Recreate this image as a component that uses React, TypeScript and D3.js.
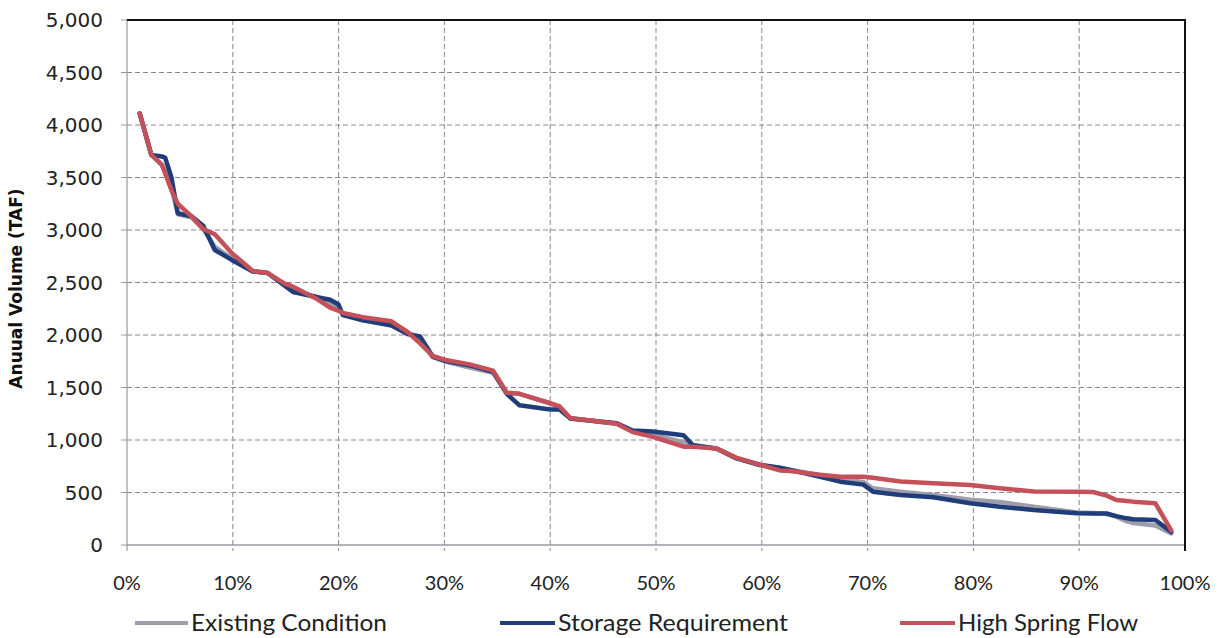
import React from "react";
import * as d3 from "d3";

// exceedance (%) shared by all three series
const pctPoints = [
  1.2, 2.3, 3.3, 3.6, 4.2, 4.8, 6.1, 7.2, 8.3, 9.9, 11.9, 13.3, 14.9, 15.7, 18.0, 19.2, 20.0, 20.4,
  22.3, 25.0, 26.5, 27.7, 28.9, 30.0, 32.4, 34.6, 35.9, 37.1, 40.0, 40.9, 41.9, 46.3, 47.8, 49.7,
  52.6, 53.5, 55.7, 57.6, 59.8, 61.7, 62.7, 65.5, 67.4, 69.6, 70.5, 73.1, 76.2, 79.7, 82.5, 85.7,
  89.8, 91.3, 92.6, 93.5, 94.5, 95.1, 97.2, 98.7,
];

const existingCondition = [
  4110, 3715, 3620, 3560, 3400, 3150, 3120, 3010, 2840, 2730, 2605, 2590, 2480, 2430, 2360, 2300, 2240, 2200,
  2140, 2110, 2030, 1950, 1790, 1750, 1690, 1640, 1445, 1440, 1350, 1310, 1205, 1155, 1080, 1050,
  980, 950, 920, 830, 765, 735, 715, 665, 630, 600, 540, 508, 476, 430, 410, 365,
  310, 305, 295, 270, 225, 210, 185, 110,
];

const storageRequirement = [
  4110, 3715, 3700, 3690, 3500, 3160, 3130, 3040, 2810, 2715, 2605, 2590, 2470, 2410, 2360, 2335, 2290, 2190,
  2140, 2090, 2010, 1985, 1795, 1755, 1710, 1650, 1440, 1330, 1290, 1290, 1205, 1160, 1090, 1080,
  1045, 950, 920, 825, 762, 735, 715, 650, 603, 575, 508, 476, 455, 397, 365, 333,
  302, 300, 300, 275, 254, 245, 238, 125,
];

const highSpringFlow = [
  4110, 3715, 3620, 3540, 3380, 3250, 3130, 3010, 2960, 2780, 2610, 2590, 2490, 2460, 2340, 2260, 2230, 2210,
  2170, 2130, 2030, 1920, 1800, 1765, 1720, 1660, 1450, 1440, 1350, 1320, 1210, 1155, 1075, 1030,
  936, 936, 920, 830, 765, 710, 705, 670, 651, 651, 640, 605, 587, 571, 540, 510,
  508, 505, 470, 429, 420, 413, 397, 140,
];

const yTicks = [0, 500, 1000, 1500, 2000, 2500, 3000, 3500, 4000, 4500, 5000];
const xTicks = [0, 10, 20, 30, 40, 50, 60, 70, 80, 90, 100];

const seriesList = [
  { name: "Existing Condition", values: existingCondition, color: "#9d9dab" },
  { name: "Storage Requirement", values: storageRequirement, color: "#1f3d78" },
  { name: "High Spring Flow", values: highSpringFlow, color: "#c4505a" },
];

const W = 1219;
const H = 638;
const plot = { left: 127, right: 1185, top: 20, bottom: 545 };

export default function App() {
  const x = d3.scaleLinear().domain([0, 100]).range([plot.left, plot.right]);
  const y = d3.scaleLinear().domain([0, 5000]).range([plot.bottom, plot.top]);
  const fmt = d3.format(",");

  const line = d3
    .line<number>()
    .x((d, i) => x(pctPoints[i]))
    .y((d) => y(d));

  // legend swatch positions and text widths
  const legendPos = [
    { x1: 135, x2: 188, w: 196 },
    { x1: 500, x2: 555, w: 230 },
    { x1: 900, x2: 955, w: 180 },
  ];

  return (
    <svg
      width={W}
      height={H}
      style={{ position: "absolute", left: 0, top: 0, background: "#fff" }}
    >
      {/* grid */}
      {yTicks.slice(1, -1).map((t) => (
        <line
          key={"gy" + t}
          x1={plot.left}
          x2={plot.right}
          y1={y(t)}
          y2={y(t)}
          stroke="#8a8590"
          strokeWidth={1}
          strokeDasharray="5,3"
        />
      ))}
      {xTicks.slice(1, -1).map((t) => (
        <line
          key={"gx" + t}
          x1={x(t)}
          x2={x(t)}
          y1={plot.top}
          y2={plot.bottom + 6}
          stroke="#8a8590"
          strokeWidth={1}
          strokeDasharray="5,3"
        />
      ))}

      {/* axes */}
      <line x1={plot.left} x2={plot.left} y1={plot.top} y2={plot.bottom + 6} stroke="#9a98a0" strokeWidth={1.2} />
      <line x1={plot.left} x2={plot.right} y1={plot.bottom} y2={plot.bottom} stroke="#9a98a0" strokeWidth={1.5} />
      {yTicks.map((t) => (
        <line key={"ty" + t} x1={plot.left - 6} x2={plot.left} y1={y(t)} y2={y(t)} stroke="#9a98a0" strokeWidth={1} />
      ))}
      <line x1={plot.left} x2={plot.right + 1} y1={plot.top} y2={plot.top} stroke="#111" strokeWidth={2} />
      <line x1={plot.right} x2={plot.right} y1={plot.top} y2={plot.bottom + 6} stroke="#111" strokeWidth={2} />

      {/* tick labels */}
      {yTicks.map((t) => (
        <text
          key={"ly" + t}
          x={103}
          y={y(t)}
          dy="0.36em"
          textAnchor="end"
          fontFamily="DejaVu Sans, Verdana, sans-serif"
          fontSize={20}
          fill="#222"
        >
          {fmt(t)}
        </text>
      ))}
      {xTicks.map((t) => (
        <text
          key={"lx" + t}
          x={x(t)}
          y={590}
          textAnchor="middle"
          fontFamily="Lato, Calibri, sans-serif"
          fontSize={20}
          fill="#222"
        >
          {t + "%"}
        </text>
      ))}

      <text
        transform={`translate(22,${(plot.top + plot.bottom) / 2 + 6}) rotate(-90)`}
        textAnchor="middle"
        fontFamily="DejaVu Sans, Verdana, sans-serif"
        fontWeight="bold"
        fontSize={17}
        fill="#111"
      >
        Anuual Volume (TAF)
      </text>

      {/* series */}
      {seriesList.map((s) => (
        <path
          key={s.name}
          d={line(s.values) || ""}
          fill="none"
          stroke={s.color}
          strokeWidth={4.5}
          strokeLinejoin="round"
          strokeLinecap="round"
        />
      ))}

      {/* legend */}
      {seriesList.map((s, i) => (
        <g key={"lg" + s.name}>
          <line
            x1={legendPos[i].x1}
            x2={legendPos[i].x2}
            y1={623}
            y2={623}
            stroke={s.color}
            strokeWidth={4}
          />
          <text
            x={legendPos[i].x2 + 3}
            y={623}
            dy="0.35em"
            fontFamily="Lato, Calibri, sans-serif"
            fontSize={23}
            textLength={legendPos[i].w}
            lengthAdjust="spacingAndGlyphs"
            fill="#222"
          >
            {s.name}
          </text>
        </g>
      ))}
    </svg>
  );
}
